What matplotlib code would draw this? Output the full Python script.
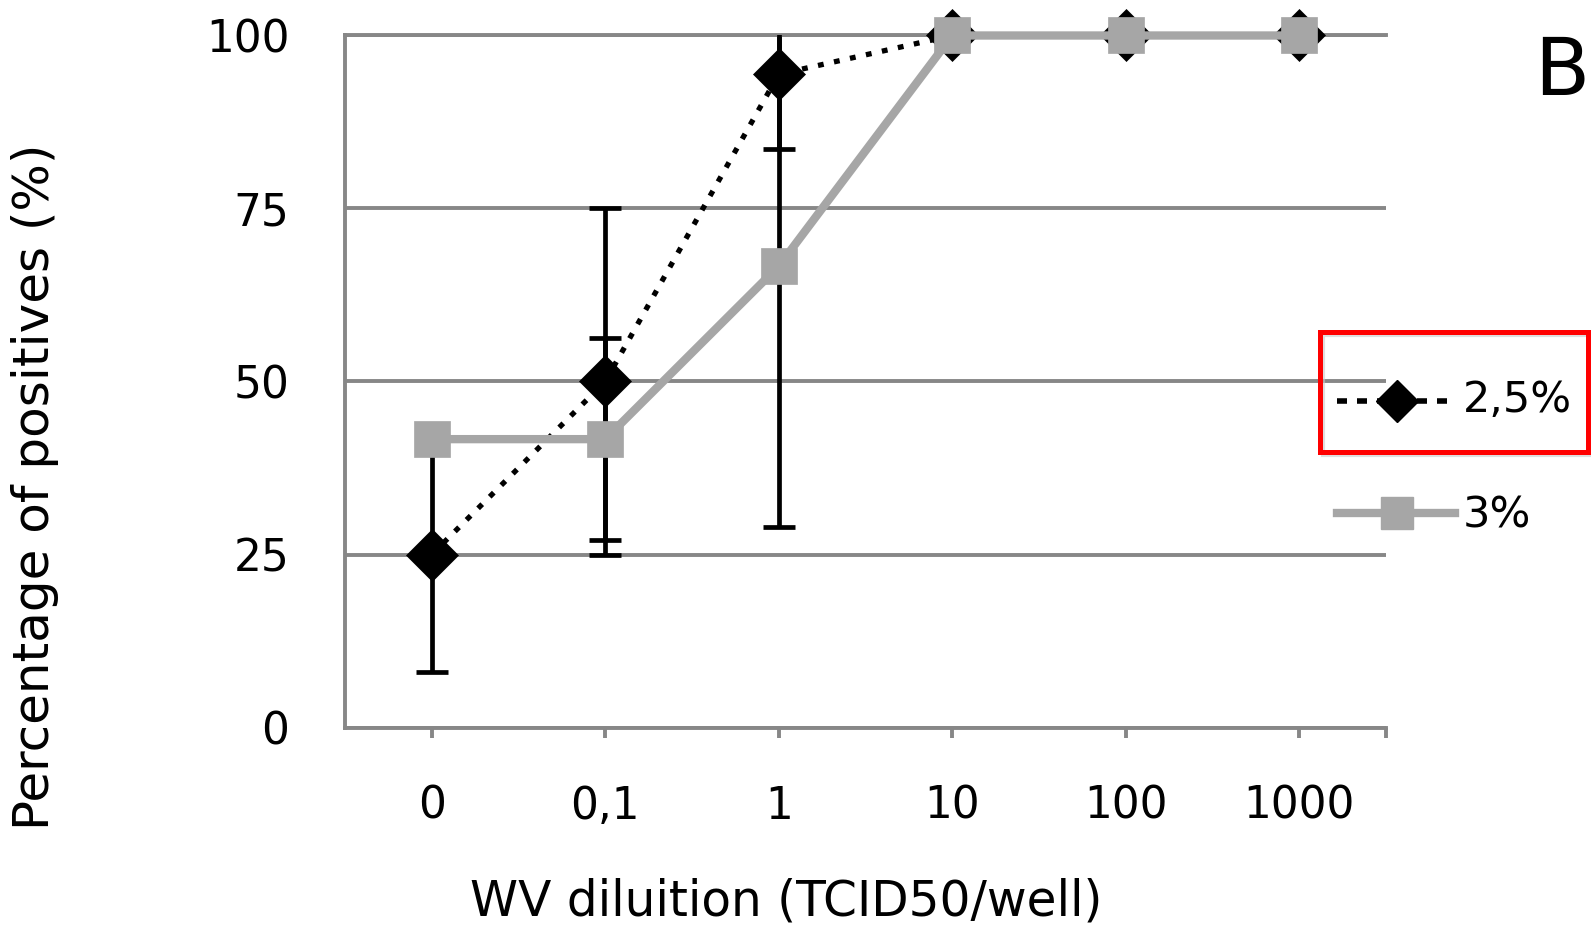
import numpy as np
import matplotlib
matplotlib.use("Agg")
import matplotlib.pyplot as plt
from matplotlib.lines import Line2D
from matplotlib.patches import Rectangle

# data
categories = ["0", "0,1", "1", "10", "100", "1000"]
pct_25 = [25.0, 50.0, 94.4, 100.0, 100.0, 100.0]
err_25 = [17.0, 25.0, 10.8, 0.0, 0.0, 0.0]
pct_3 = [41.67, 41.67, 66.67, 100.0, 100.0, 100.0]
err_3 = [0.0, 14.6, 37.7, 0.0, 0.0, 0.0]
series_labels = ["2,5%", "3%"]
y_ticks = [0, 25, 50, 75, 100]

W, H = 1591, 930
GRID = "#878787"
GRAY = "#a6a6a6"

plt.rcParams["font.family"] = ["DejaVu Sans"]

fig = plt.figure(figsize=(W / 100, H / 100), dpi=100, facecolor="white")
ax = fig.add_axes([345 / W, 1 - 727.5 / H, 1041 / W, 692 / H])

x = np.arange(len(categories))
pct_25 = np.array(pct_25)
pct_3 = np.array(pct_3)
err_25 = np.array(err_25)
err_3 = np.array(err_3)

# error bars first, series drawn on top of them
m = err_25 > 0
ax.errorbar(x[m], pct_25[m], yerr=err_25[m], fmt="none", ecolor="black",
            elinewidth=3.4, capsize=11.5, capthick=3.4, zorder=2)
ax.plot(x, pct_25, color="black", lw=3.8, dashes=(1.1, 2.0), marker="D",
        ms=26, mfc="black", mec="black", mew=0.5, clip_on=False, zorder=3)

m = err_3 > 0
ax.errorbar(x[m], pct_3[m], yerr=err_3[m], fmt="none", ecolor="black",
            elinewidth=3.4, capsize=11.5, capthick=3.4, zorder=4)
ax.plot(x, pct_3, color=GRAY, lw=6, marker="s", ms=26, mfc=GRAY, mec=GRAY,
        mew=0.5, clip_on=False, zorder=5)

ax.set_xlim(-0.5, len(categories) - 0.5)
ax.set_ylim(0, 100)
ax.set_xticks(x)
ax.set_xticklabels(categories)
ax.set_xticks([len(categories) - 0.5], minor=True)
ax.set_yticks(y_ticks)

ax.yaxis.grid(True, color=GRID, lw=2.8, zorder=0.5)
ax.set_axisbelow(True)
for side in ["left", "bottom", "top"]:
    ax.spines[side].set_color(GRID)
    ax.spines[side].set_linewidth(2.8)
ax.spines["right"].set_visible(False)

ax.tick_params(axis="y", length=0, pad=40, labelsize=31.5)
ax.tick_params(axis="x", which="both", direction="out", length=7.2, width=2.8,
               color=GRID, pad=34, labelsize=31.5)

ax.set_xlabel("WV diluition (TCID50/well)", fontsize=35)
ax.xaxis.set_label_coords((786 - 345) / 1041, (727.5 - 901) / 692)
ax.xaxis.label.set_va("center")
ax.set_ylabel("Percentage of positives (%)", fontsize=36)
ax.yaxis.set_label_coords((35.5 - 345) / 1041, (727.5 - 487) / 692)
ax.yaxis.label.set_va("center")
ax.yaxis.label.set_ha("center")

# legend, placed by hand at the right
def fx(px):
    return px / W


def fy(py):
    return 1 - py / H


rows = [
    (401, dict(color="black", lw=4.0, dashes=(1.8, 1.8)),
     dict(marker="D", ms=21, mfc="black", mec="black"), 400),
    (513, dict(color=GRAY, lw=6),
     dict(marker="s", ms=23, mfc=GRAY, mec=GRAY), 516),
]
for (py, lstyle, mstyle, ty), label in zip(rows, series_labels):
    fig.add_artist(Line2D([fx(1337), fx(1455)], [fy(py), fy(py)],
                          transform=fig.transFigure, **lstyle))
    fig.add_artist(Line2D([fx(1397)], [fy(py)], transform=fig.transFigure,
                          ls="none", **mstyle))
    fig.text(fx(1463), fy(ty), label, fontsize=31, ha="left", va="center")

# red highlight box round the first legend entry
fig.add_artist(Rectangle((fx(1323), fy(455)), fx(1588) - fx(1320), fy(332) - fy(452),
                         transform=fig.transFigure, fill=False, ec="#c8c8c8",
                         lw=3.0, alpha=0.6))
fig.add_artist(Rectangle((fx(1320), fy(452)), fx(1588) - fx(1320), fy(332) - fy(452),
                         transform=fig.transFigure, fill=False, ec="#ff0000",
                         lw=3.6))

# panel letter
fig.text(fx(1562), fy(73), "B", fontsize=58, ha="center", va="center")

fig.savefig("out.png", dpi=100, facecolor="white")
